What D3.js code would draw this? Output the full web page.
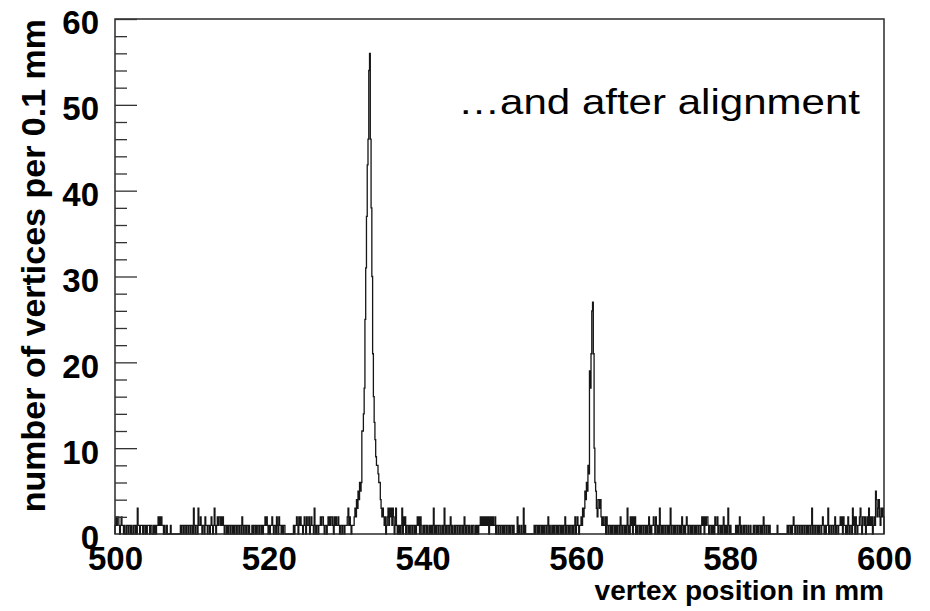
<!DOCTYPE html>
<html>
<head>
<meta charset="utf-8">
<script src="https://cdn.jsdelivr.net/npm/d3@7"></script>
<style>
  body { margin: 0; background: #fff; }
  svg { display: block; }
  text { font-family: "Liberation Sans", Arial, Helvetica, sans-serif; fill: #000; }
</style>
</head>
<body>
<svg id="chart" width="930" height="611"></svg>
<script>
// vertices per 0.1 mm bin, one array for every 10 mm
var counts500 = [1,2,1,2,2,1,0,1,2,1, 1,0,1,0,0,1,1,0,1,1, 0,1,0,0,1,1,0,1,0,3, 1,1,0,1,1,1,0,1,1,0, 1,0,1,1,1,0,1,1,0,0,
                 1,0,1,0,1,1,2,1,2,1, 2,1,1,0,1,0,0,1,0,0, 0,0,1,0,0,0,0,0,0,0, 0,0,0,0,0,1,0,1,1,0, 1,1,0,1,1,0,1,1,0,1];
var counts510 = [1,0,3,1,0,1,1,0,3,1, 1,2,1,0,1,1,0,2,1,1, 0,1,1,0,1,2,1,0,1,3, 1,0,1,2,1,2,2,1,2,1, 2,1,0,1,1,0,1,0,1,1,
                 0,1,1,0,1,0,1,1,0,1, 1,0,1,1,0,2,1,0,1,1, 0,1,1,0,1,0,0,0,1,0, 1,1,0,1,0,1,1,0,1,1, 0,1,0,1,1,2,1,2,1,0];
var counts520 = [1,0,1,1,2,1,0,1,1,0, 2,1,0,2,1,1,0,1,0,1, 1,0,0,0,0,0,0,0,0,0, 0,0,1,0,1,1,2,1,0,2, 1,2,1,1,0,1,2,1,0,2,
                 1,1,2,0,1,2,1,1,0,3, 1,0,1,1,0,1,1,2,1,2, 2,1,0,1,1,0,1,2,1,2, 1,2,2,1,0,2,1,2,1,1, 2,1,0,1,1,0,1,1,0,1];
var counts530 = [1,1,2,3,1,2,1,0,1,1, 1,2,3,2,4,3,5,4,6,5, 6,12,12,14,17,25,31,37,43,46, 54,56,46,38,30,21,16,13,11,9, 8,8,7,6,6,4,3,2,3,2,
                 1,2,0,1,2,3,1,3,2,3, 1,3,2,0,1,3,1,0,1,0, 1,0,1,3,0,2,1,2,0,1, 1,0,1,0,1,1,0,1,1,0, 1,0,1,2,1,2,0,2,1,0];
var counts540 = [0,1,0,1,1,0,1,0,0,1, 0,1,0,1,3,0,1,0,1,1, 0,1,1,0,0,1,0,1,3,0, 1,0,1,1,0,1,2,0,1,0, 0,1,0,1,1,0,1,1,0,1,
                 1,0,1,0,2,1,0,1,1,0, 1,0,0,1,0,1,1,0,0,1, 0,1,0,1,1,2,1,2,1,2, 1,2,1,2,1,2,0,2,1,2, 1,2,1,1,2,0,1,1,0,1];
var counts550 = [1,0,1,1,0,1,0,1,1,0, 1,1,0,1,0,1,1,0,1,0, 0,0,0,2,0,1,0,0,1,0, 0,3,0,1,0,0,0,0,0,0, 0,0,0,0,0,1,0,1,1,0,
                 1,0,1,1,0,1,0,1,0,1, 1,0,1,2,0,1,0,0,1,0, 1,0,1,1,0,1,0,1,1,0, 1,0,1,0,1,2,0,1,1,0, 1,0,1,1,0,1,0,1,2,0];
var counts560 = [1,2,1,0,1,1,2,1,3,2, 3,5,4,6,5,8,7,19,17,21, 26,27,21,10,6,5,3,2,4,4, 3,4,2,1,2,1,1,2,0,2, 1,0,1,1,0,1,0,1,1,0,
                 1,0,1,0,1,1,0,2,1,0, 1,1,0,1,0,1,3,0,1,0, 2,1,2,0,2,1,2,0,1,0, 1,1,0,1,0,1,1,0,1,1, 0,1,0,1,2,0,1,0,1,1];
var counts570 = [2,1,0,2,1,0,1,0,3,1, 0,1,0,1,1,0,1,1,0,1, 0,1,3,0,1,1,0,1,0,1, 1,0,1,1,0,1,0,2,1,0, 1,0,1,2,1,0,1,1,0,1,
                 0,1,1,0,1,0,1,1,0,1, 1,0,1,2,1,2,0,2,1,2, 2,1,0,1,1,0,1,0,1,0, 2,1,1,2,0,1,1,0,1,0, 1,2,0,1,0,1,0,3,1,0];
var counts580 = [1,0,0,0,0,0,0,1,0,1, 0,1,2,0,1,0,0,1,0,1, 1,0,0,1,0,0,1,0,0,0, 1,0,1,1,0,1,0,1,1,0, 1,0,1,2,0,1,1,0,1,1,
                 0,1,0,0,0,0,0,0,0,0, 0,1,0,0,0,0,0,0,0,0, 0,0,0,0,1,0,1,1,0,1, 0,1,2,1,0,1,1,0,1,1, 0,1,1,0,1,1,0,1,1,0];
var counts590 = [1,0,1,1,0,1,3,0,1,1, 0,1,1,0,1,0,1,1,0,1, 2,1,0,1,0,1,1,3,0,1, 1,0,1,1,0,1,2,0,1,1, 0,1,1,2,1,2,0,2,1,1,
                 0,1,0,2,1,0,1,1,0,3, 1,2,0,2,1,0,1,1,2,3, 1,0,2,2,1,2,0,1,2,1, 3,1,2,1,2,0,1,2,1,5, 4,2,3,4,2,1,3,2,3,2];

var xTicks = [500, 520, 540, 560, 580, 600];
var yTicks = [0, 10, 20, 30, 40, 50, 60];

var xTitle = "vertex position in mm",
    yTitle = "number of vertices per 0.1 mm",
    note = "\u2026and after alignment";

var bins = [].concat(counts500, counts510, counts520, counts530, counts540,
                     counts550, counts560, counts570, counts580, counts590);
var binWidth = 0.1, xMin = 500, xMax = 600;

var svg = d3.select("#chart");

var x = d3.scaleLinear().domain([xMin, xMax]).range([115, 884]);
var y = d3.scaleLinear().domain([0, 60]).range([534, 19]);

// histogram outline
var pts = [[xMin, 0]];
bins.forEach(function(v, i) { pts.push([xMin + i * binWidth, v]); });
pts.push([xMax, bins[bins.length - 1]], [xMax, 0]);

var line = d3.line()
  .x(function(d) { return x(d[0]); })
  .y(function(d) { return y(d[1]); })
  .curve(d3.curveStepAfter);

svg.append("path")
  .datum(pts)
  .attr("d", line)
  .attr("fill", "none")
  .attr("stroke", "#161616")
  .attr("stroke-width", 1.3);

// frame
svg.append("rect")
  .attr("x", x(xMin))
  .attr("y", y(60))
  .attr("width", x(xMax) - x(xMin))
  .attr("height", y(0) - y(60))
  .attr("fill", "none")
  .attr("stroke", "#2a2a2a")
  .attr("stroke-width", 1.5);

// y ticks, pointing into the frame
function tickAxis(values, size) {
  var g = svg.append("g")
    .attr("transform", "translate(" + x(xMin) + ",0)")
    .call(d3.axisRight(y).tickValues(values).tickSize(size).tickFormat(""));
  g.select(".domain").remove();
  g.selectAll("line").attr("stroke", "#333").attr("stroke-width", 1.3);
}
tickAxis(d3.range(0, 61, 2).filter(function(v) { return v % 10; }), 12);
tickAxis(yTicks.slice(1), 22);

// tick labels
var yLab = svg.append("g")
  .attr("transform", "translate(" + x(xMin) + ",0)")
  .call(d3.axisLeft(y).tickValues(yTicks).tickSize(0).tickPadding(16));
yLab.select(".domain").remove();
yLab.selectAll("text")
  .attr("dy", "0.45em")
  .style("font-size", "33px")
  .style("font-weight", "bold")
  .attr("fill", "#000");

var xLab = svg.append("g")
  .attr("transform", "translate(0," + y(0) + ")")
  .call(d3.axisBottom(x).tickValues(xTicks).tickSize(0).tickPadding(13));
xLab.select(".domain").remove();
xLab.selectAll("text")
  .style("font-size", "33px")
  .style("font-weight", "bold")
  .attr("fill", "#000");

// axis titles
svg.append("text")
  .attr("x", x(xMax))
  .attr("y", 600)
  .attr("text-anchor", "end")
  .style("font-size", "28px")
  .style("font-weight", "bold")
  .text(xTitle);

svg.append("text")
  .attr("transform", "translate(45," + y(60) + ") rotate(-90)")
  .attr("text-anchor", "end")
  .style("font-size", "34px")
  .style("font-weight", "bold")
  .text(yTitle);

// annotation
svg.append("text")
  .attr("x", 458)
  .attr("y", 114)
  .attr("textLength", 402)
  .attr("lengthAdjust", "spacingAndGlyphs")
  .style("font-size", "35px")
  .text(note);
</script>
</body>
</html>
